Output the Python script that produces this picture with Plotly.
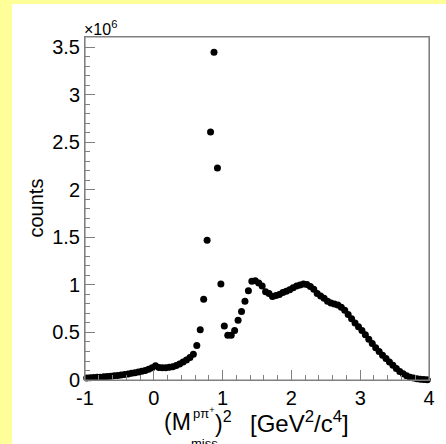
import plotly.graph_objects as go

# ---- data (100 bins from -1 to 4, width 0.05) ----
bin_lo = -1.0
bin_width = 0.05
counts_millions = [
    0.022, 0.024, 0.026, 0.028, 0.030, 0.033, 0.036, 0.040, 0.044, 0.048,
    0.052, 0.058, 0.064, 0.070, 0.076, 0.083, 0.092, 0.100, 0.112, 0.128,
    0.150, 0.132, 0.130, 0.130, 0.134, 0.140, 0.152, 0.168, 0.190, 0.210,
    0.238, 0.272, 0.362, 0.530, 0.850, 1.470, 2.610, 3.450, 2.230, 1.010,
    0.568, 0.470, 0.470, 0.520, 0.630, 0.720, 0.830, 0.940, 1.040, 1.045,
    1.020, 0.990, 0.930, 0.910, 0.880, 0.890, 0.900, 0.920, 0.935, 0.950,
    0.970, 0.990, 1.000, 1.010, 1.005, 0.985, 0.955, 0.910, 0.885, 0.860,
    0.830, 0.810, 0.800, 0.790, 0.765, 0.735, 0.690, 0.645, 0.600, 0.560,
    0.520, 0.475, 0.430, 0.385, 0.340, 0.300, 0.260, 0.225, 0.190, 0.155,
    0.120, 0.090, 0.065, 0.045, 0.030, 0.020, 0.012, 0.008, 0.005, 0.003,
]
x_tick_vals = [-1, 0, 1, 2, 3, 4]
x_tick_text = ["-1", "0", "1", "2", "3", "4"]
y_tick_vals = [0, 0.5e6, 1.0e6, 1.5e6, 2.0e6, 2.5e6, 3.0e6, 3.5e6]
y_tick_text = ["0", "0.5", "1", "1.5", "2", "2.5", "3", "3.5"]

x_centers = [bin_lo + bin_width * (i + 0.5) for i in range(len(counts_millions))]
y_counts = [v * 1e6 for v in counts_millions]

W, H = 446, 444
L, R, T, B = 85, 429, 37, 380
FONT = "Liberation Sans, Arial, Helvetica, sans-serif"
FRAME = "#808080"
YELLOW = "#ffff99"

def px(xp):
    return (xp - L) / (R - L)

def py(yp):
    return (B - yp) / (B - T)

fig = go.Figure()
fig.add_trace(go.Scatter(
    x=x_centers, y=y_counts, mode="markers",
    marker=dict(color="black", size=7, line=dict(width=0)),
    cliponaxis=False, showlegend=False, hoverinfo="skip",
))

fig.update_layout(
    template="none",
    width=W, height=H,
    margin=dict(l=L, r=W - R, t=T, b=H - B, pad=0, autoexpand=False),
    paper_bgcolor="white",
    plot_bgcolor="white",
    font=dict(family=FONT, color="black", size=20),
    shapes=[
        dict(type="rect", xref="paper", yref="paper",
             x0=px(-5), x1=px(12), y0=py(H + 5), y1=py(-5),
             fillcolor=YELLOW, line=dict(width=0), layer="above"),
        dict(type="rect", xref="paper", yref="paper",
             x0=px(-5), x1=px(W + 5), y0=py(4), y1=py(-5),
             fillcolor=YELLOW, line=dict(width=0), layer="above"),
        # plot frame
        dict(type="rect", xref="paper", yref="paper", x0=0, x1=1, y0=0, y1=1,
             fillcolor="rgba(0,0,0,0)", line=dict(width=1.2, color=FRAME), layer="above"),
    ],
)
fig.update_xaxes(
    automargin=False,
    range=[-1, 4], tickmode="array", tickvals=x_tick_vals, ticktext=x_tick_text,
    ticks="inside", ticklen=10, tickwidth=1.2, tickcolor=FRAME,
    showline=True, linecolor=FRAME, linewidth=1, mirror=True,
    showgrid=False, zeroline=False, tickfont=dict(size=20),
    minor=dict(ticks="inside", ticklen=5, tickwidth=1.2, tickcolor=FRAME,
               tickmode="linear", tick0=-1, dtick=0.2, showgrid=False),
)
fig.update_yaxes(
    automargin=False,
    range=[0, 3.61e6], tickmode="array", tickvals=y_tick_vals, ticktext=y_tick_text,
    ticks="inside", ticklen=10, tickwidth=1.2, tickcolor=FRAME,
    showline=True, linecolor=FRAME, linewidth=1, mirror=True,
    showgrid=False, zeroline=False, tickfont=dict(size=20),
    minor=dict(ticks="inside", ticklen=5, tickwidth=1.2, tickcolor=FRAME,
               tickmode="linear", tick0=0, dtick=1e5, showgrid=False),
)

ann = []
def add(text, x, y, size, xanchor="left", yanchor="middle", angle=0):
    ann.append(dict(text=text, x=px(x), y=py(y), xref="paper", yref="paper",
                    showarrow=False, xanchor=xanchor, yanchor=yanchor,
                    textangle=angle, font=dict(size=size, family=FONT, color="black")))

add("×10<sup>6</sup>", 82, 40, 16, yanchor="bottom")
add("counts", 35.5, 208, 20, xanchor="center", angle=-90)
add("(M", 193, 422, 23, xanchor="right")
add("pπ<sup>+</sup>", 191, 413, 13)
add("miss", 189, 443, 13)
add(")<sup>2</sup>", 213, 422, 23)
add("[GeV<sup>2</sup>/c<sup>4</sup>]", 248, 422, 24)
fig.update_layout(annotations=ann)

fig.write_html(
    "out.html",
    config={"displayModeBar": False},
    post_script="document.body.style.margin='0px';",
)
